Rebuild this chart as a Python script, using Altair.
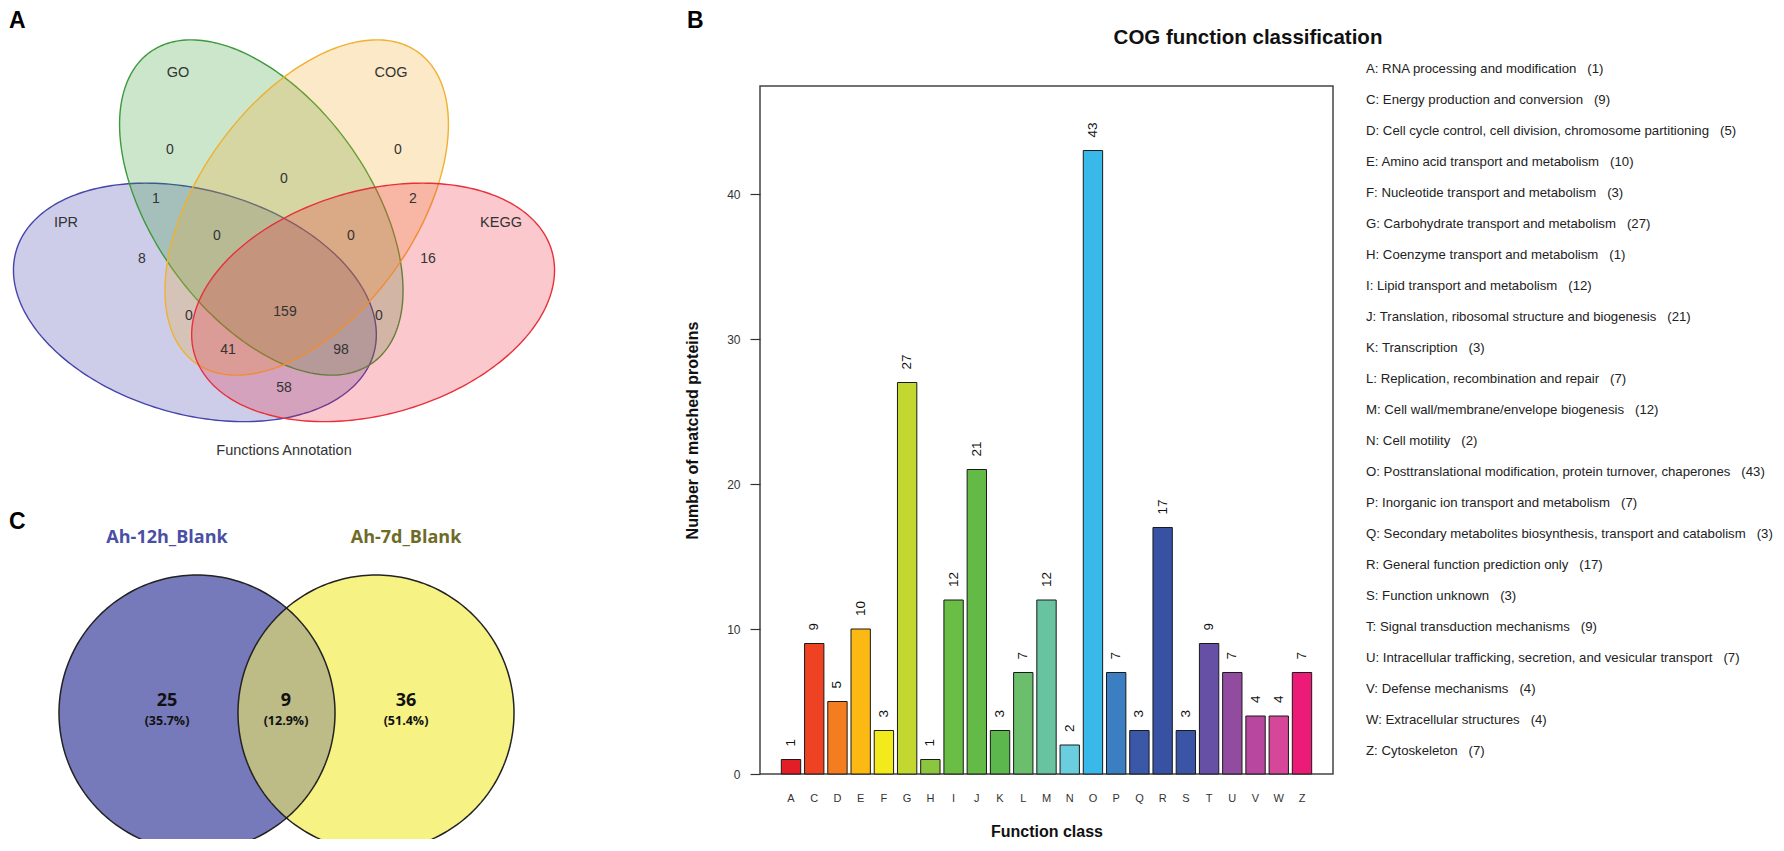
import numpy as np
import pandas as pd
import altair as alt

# ---------------- data ----------------
cog_classes = ["A", "C", "D", "E", "F", "G", "H", "I", "J", "K", "L", "M",
               "N", "O", "P", "Q", "R", "S", "T", "U", "V", "W", "Z"]
cog_counts = [1, 9, 5, 10, 3, 27, 1, 12, 21, 3, 7, 12, 2, 43, 7, 3, 17, 3, 9, 7, 4, 4, 7]
cog_desc = [
    "RNA processing and modification",
    "Energy production and conversion",
    "Cell cycle control, cell division, chromosome partitioning",
    "Amino acid transport and metabolism",
    "Nucleotide transport and metabolism",
    "Carbohydrate transport and metabolism",
    "Coenzyme transport and metabolism",
    "Lipid transport and metabolism",
    "Translation, ribosomal structure and biogenesis",
    "Transcription",
    "Replication, recombination and repair",
    "Cell wall/membrane/envelope biogenesis",
    "Cell motility",
    "Posttranslational modification, protein turnover, chaperones",
    "Inorganic ion transport and metabolism",
    "Secondary metabolites biosynthesis, transport and catabolism",
    "General function prediction only",
    "Function unknown",
    "Signal transduction mechanisms",
    "Intracellular trafficking, secretion, and vesicular transport",
    "Defense mechanisms",
    "Extracellular structures",
    "Cytoskeleton",
]

venn4_sets = ["IPR", "GO", "COG", "KEGG"]
venn4_regions = ["GO", "COG", "GO&COG", "IPR&GO", "COG&KEGG", "IPR&GO&COG",
                 "GO&COG&KEGG", "IPR", "KEGG", "IPR&COG", "IPR&GO&COG&KEGG",
                 "GO&KEGG", "IPR&COG&KEGG", "IPR&GO&KEGG", "IPR&KEGG"]
venn4_counts = [0, 0, 0, 1, 2, 0, 0, 8, 16, 0, 159, 0, 41, 98, 58]

venn2_sets = ["Ah-12h_Blank", "Ah-7d_Blank"]
venn2_regions = ["Ah-12h_Blank only", "both", "Ah-7d_Blank only"]
venn2_counts = [25, 9, 36]

# ---------------- styles / layout ----------------
cog_palette = ["#e41e26", "#ee4223", "#f47d20", "#fcb813", "#f3ea1b", "#c3d731",
               "#8cc63f", "#6abd45", "#64ba47", "#5cb84c", "#6bbf6c", "#68c4a0",
               "#6bcede", "#39b9ea", "#3b7ec1", "#3a58a7", "#3852a3", "#3a55a5",
               "#6650a5", "#914ca0", "#b8479f", "#d6479a", "#ec1b78"]

venn4_fill = ["rgba(54,54,168,0.25)", "rgba(46,154,46,0.25)",
              "rgba(245,166,35,0.25)", "rgba(235,35,55,0.25)"]
venn4_stroke = ["#4444aa", "#3c9a3c", "#f0b030", "#e8303a"]
venn4_label_pos = [(169, 149), (397, 149), (283, 178), (155, 198), (412, 198),
                   (216, 235), (350, 235), (141, 258), (427, 258), (188, 315),
                   (284, 311), (378, 315), (227, 349), (340, 349), (283, 387)]
venn4_set_pos = [(65, 222), (177, 72), (390, 72), (500, 222)]
MIRROR = 566.0
# ellipse geometry (centre x, centre y, semi-major, semi-minor, tilt in degrees)
IPR_E = (193.9, 301.4, 186.0, 112.0, 16.0)
GO_E = (260.3, 206.5, 191.1, 108.0, 54.4)


def ellipse_df(cx, cy, a, b, ang, mirror=False, n=240):
    t = np.linspace(0, 2 * np.pi, n, endpoint=False)
    th = np.radians(ang)
    x = cx + a * np.cos(t) * np.cos(th) - b * np.sin(t) * np.sin(th)
    y = cy + a * np.cos(t) * np.sin(th) + b * np.sin(t) * np.cos(th)
    if mirror:
        x = MIRROR - x
    return pd.DataFrame({"x": x, "y": y, "o": np.arange(n)})


C_LEFT = (196.0, 712.0, 138.0)
C_RIGHT = (375.0, 712.0, 138.0)
Y_CLAMP = 839.5


def circle_df(cx, cy, r, n=240):
    t = np.linspace(0, 2 * np.pi, n, endpoint=False)
    x = cx + r * np.cos(t)
    y = np.minimum(cy + r * np.sin(t), Y_CLAMP)
    return pd.DataFrame({"x": x, "y": y, "o": np.arange(n)})


def lens_df(c1, c2, n=120):
    (x1, y1, r1), (x2, y2, r2) = c1, c2
    d = x2 - x1
    xa = (d * d + r1 * r1 - r2 * r2) / (2 * d)
    h = np.sqrt(r1 * r1 - xa * xa)
    a1 = np.arctan2(h, xa)
    t1 = np.linspace(-a1, a1, n)
    p1x, p1y = x1 + r1 * np.cos(t1), y1 + r1 * np.sin(t1)
    a2 = np.arctan2(h, xa - d)
    t2 = np.linspace(a2, 2 * np.pi - a2, n)
    p2x, p2y = x2 + r2 * np.cos(t2), y2 + r2 * np.sin(t2)
    x = np.r_[p1x, p2x]
    y = np.minimum(np.r_[p1y, p2y], Y_CLAMP)
    return pd.DataFrame({"x": x, "y": y, "o": np.arange(len(x))})


LEFT_W, LEFT_H = 751, 830
XS = alt.Scale(domain=[8, 8 + LEFT_W], nice=False, zero=False)
YS = alt.Scale(domain=[8, 8 + LEFT_H], nice=False, zero=False, reverse=True)
FONT = "Liberation Sans"


def shape(df, **kw):
    return alt.Chart(df).mark_line(interpolate="linear-closed", **kw).encode(
        x=alt.X("x:Q", scale=XS, axis=None),
        y=alt.Y("y:Q", scale=YS, axis=None),
        order="o:Q",
    )


def texts(df, **kw):
    return alt.Chart(df).mark_text(**kw).encode(
        x=alt.X("x:Q", scale=XS, axis=None),
        y=alt.Y("y:Q", scale=YS, axis=None),
        text="t:N",
    )


layers = []
# ---- Venn A ----
ell = [ellipse_df(*IPR_E), ellipse_df(*GO_E), ellipse_df(*GO_E, mirror=True),
       ellipse_df(*IPR_E, mirror=True)]
for df, f, s in zip(ell, venn4_fill, venn4_stroke):
    layers.append(shape(df, fill=f, stroke=s, strokeWidth=1.4))

v4_df = pd.DataFrame({"x": [p[0] for p in venn4_label_pos],
                      "y": [p[1] for p in venn4_label_pos],
                      "t": [str(c) for c in venn4_counts]})
layers.append(texts(v4_df, font=FONT, fontSize=14, color="#333",
                    align="center", baseline="middle"))
set_df = pd.DataFrame({"x": [p[0] for p in venn4_set_pos],
                       "y": [p[1] for p in venn4_set_pos], "t": venn4_sets})
layers.append(texts(set_df, font=FONT, fontSize=14.5, color="#333",
                    align="center", baseline="middle"))
layers.append(texts(pd.DataFrame({"x": [283], "y": [450], "t": ["Functions Annotation"]}),
                    font=FONT, fontSize=14.5, color="#333", align="center", baseline="middle"))

# ---- Venn C ----
layers.append(shape(circle_df(*C_LEFT), fill="#7679ba", strokeOpacity=0, clip=True))
layers.append(shape(circle_df(*C_RIGHT), fill="#f6f283", strokeOpacity=0, clip=True))
layers.append(shape(lens_df(C_LEFT, C_RIGHT), fill="#bdbb86", strokeOpacity=0, clip=True))
layers.append(shape(circle_df(*C_LEFT), stroke="#222", strokeWidth=1.5, clip=True))
layers.append(shape(circle_df(*C_RIGHT), stroke="#222", strokeWidth=1.5, clip=True))

tot = sum(venn2_counts)
c_df = pd.DataFrame({"x": [166, 285, 405], "y": [700] * 3, "t": [str(c) for c in venn2_counts]})
p_df = pd.DataFrame({"x": [166, 285, 405], "y": [720] * 3,
                     "t": [f"({100 * c / tot:.1f}%)" for c in venn2_counts]})
layers.append(texts(c_df, font="Open Sans", fontSize=18, fontWeight="bold", color="#111",
                    align="center", baseline="middle"))
layers.append(texts(p_df, font="Open Sans", fontSize=12.5, fontWeight="bold", color="#111",
                    align="center", baseline="middle"))
layers.append(texts(pd.DataFrame({"x": [166], "y": [537], "t": [venn2_sets[0]]}),
                    font="Open Sans", fontSize=18, fontWeight="bold", color="#4a4fa6",
                    align="center", baseline="middle"))
layers.append(texts(pd.DataFrame({"x": [405], "y": [537], "t": [venn2_sets[1]]}),
                    font="Open Sans", fontSize=18, fontWeight="bold", color="#6e6b27",
                    align="center", baseline="middle"))

# ---- panel letters and B title ----
layers.append(texts(pd.DataFrame({"x": [8, 686, 8], "y": [27, 27, 528], "t": ["A", "B", "C"]}),
                    font=FONT, fontSize=23, fontWeight="bold", color="#000",
                    align="left", baseline="alphabetic"))
layers.append(texts(pd.DataFrame({"x": [1247], "y": [43], "t": ["COG function classification"]}),
                    font=FONT, fontSize=20.5, fontWeight="bold", color="#111",
                    align="center", baseline="alphabetic"))

left = alt.layer(*layers).properties(width=LEFT_W, height=LEFT_H)

# ---------------- bar chart B ----------------
bar_df = pd.DataFrame({"cls": cog_classes, "n": cog_counts})
BAR_W, BAR_H = 573, 688
xb = alt.X("cls:N", sort=cog_classes,
           scale=alt.Scale(paddingInner=1 / 6, paddingOuter=0.918),
           axis=alt.Axis(title="Function class", labelAngle=0, ticks=False, tickSize=0,
                         domain=False, labelPadding=18, labelFontSize=11, labelFont=FONT,
                         labelColor="#333", titleFont=FONT, titleFontSize=16,
                         titleFontWeight="bold", titleColor="#111", titlePadding=20))
yb = alt.Y("n:Q", scale=alt.Scale(domain=[0, 47.45], nice=False, zero=True),
           axis=alt.Axis(title="Number of matched proteins", values=[0, 10, 20, 30, 40],
                         grid=False, domain=False, tickSize=10, tickColor="#333",
                         tickWidth=1.2, labelPadding=10, labelFontSize=12, labelFont=FONT,
                         labelColor="#333", titleFont=FONT, titleFontSize=16,
                         titleFontWeight="bold", titleColor="#111", titlePadding=26))
bars = alt.Chart(bar_df).mark_bar(stroke="#1a1a1a", strokeWidth=1).encode(
    x=xb, y=yb,
    color=alt.Color("cls:N", scale=alt.Scale(domain=cog_classes, range=cog_palette), legend=None),
)
vals = alt.Chart(bar_df).mark_text(angle=270, align="left", baseline="middle", dx=13,
                                   fontSize=13.5, font=FONT, color="#111").encode(
    x=alt.X("cls:N", sort=cog_classes), y="n:Q", text="n:Q")
bar_chart = alt.layer(bars, vals).properties(
    width=BAR_W, height=BAR_H,
    view=alt.ViewBackground(stroke="#444", strokeWidth=1.5))

# ---------------- class list (sits above/right of the bar panel) ----------------
leg_df = pd.DataFrame({
    "i": list(range(len(cog_classes))),
    "label": [f"{c}: {d}\u00a0\u00a0\u00a0({n})" for c, d, n in zip(cog_classes, cog_desc, cog_counts)],
})
legend = alt.Chart(leg_df).mark_text(align="left", baseline="middle", fontSize=13.2,
                                     font=FONT, color="#222").encode(
    x=alt.value(BAR_W + 33),
    y=alt.Y("i:Q", scale=alt.Scale(domain=[0, 22], range=[60, 742]), axis=None),
    text="label:N",
).properties(width=BAR_W, height=77)

right_col = alt.vconcat(legend, bar_chart, spacing=0, bounds="flush")

chart = alt.hconcat(left, right_col, spacing=0, bounds="flush").properties(
    padding=0).configure_view(stroke="transparent")

chart.save("out.html", embed_options={"renderer": "svg", "actions": False})
